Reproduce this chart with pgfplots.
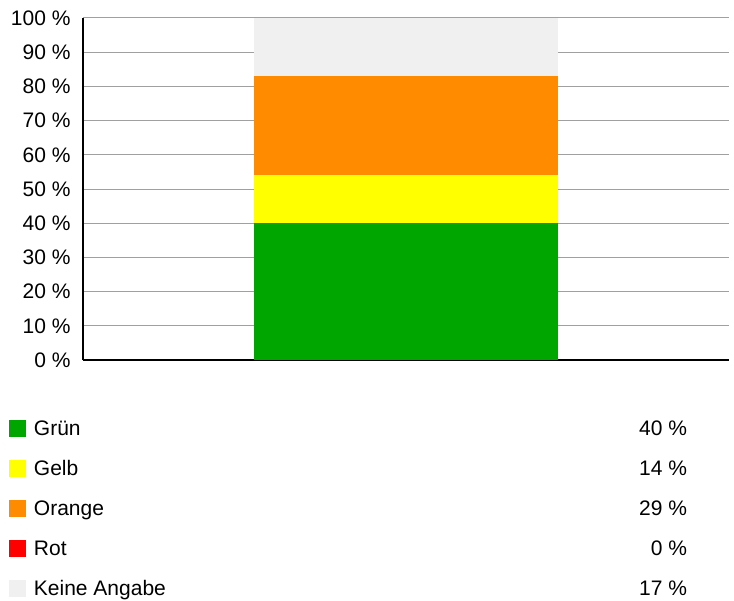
\documentclass[border=0pt]{standalone}
\usepackage{pgfplots}
\pgfplotsset{compat=1.18}
\usepackage{fontspec}
\setmainfont{Liberation Sans}
\definecolor{gruen}{RGB}{0,166,0}
\definecolor{gelb}{RGB}{255,255,0}
\definecolor{orangeb}{RGB}{255,140,0}
\definecolor{rot}{RGB}{255,0,0}
\definecolor{keine}{RGB}{240,240,240}
\definecolor{gridgray}{RGB}{160,160,160}

\begin{document}
\begin{tikzpicture}[font=\fontsize{21bp}{25bp}\selectfont]
\useasboundingbox (-83bp,-241bp) rectangle (651bp,360bp);
\begin{axis}[
    at={(0,0)}, anchor=south west,
    scale only axis,
    width=646bp, height=342bp,
    ybar stacked,
    bar width=0.47,
    bar shift=0pt,
    xmin=0, xmax=1,
    ymin=0, ymax=100,
    xtick=\empty,
    ytick={0,10,...,100},
    yticklabel={\pgfmathprintnumber[assume math mode=true]{\tick} \%},
    yticklabel style={xshift=-9bp},
    major tick length=0pt,
    ymajorgrids,
    grid style={gridgray, line width=1bp},
    axis x line=bottom,
    axis y line=left,
    x axis line style={-, black, line width=2.5bp},
    y axis line style={-, black, line width=2bp},
    legend style={at={(axis description cs:-0.1146,-0.171)}, anchor=north west,
        draw=none, fill=none, inner sep=0pt, outer sep=0pt,
        row sep=20bp, column sep=8bp,
        nodes={inner sep=0pt, text height=17bp, text depth=3bp}},
    legend cell align=left,
    legend image code/.code={\fill[#1] (0bp,-8.5bp) rectangle (17bp,8.5bp);},
]
\addplot[fill=gruen, draw=none] coordinates {(0.5,40)};
\addlegendentry{\makebox[653bp][l]{Grün\hfill 40 \%}}
\addplot[fill=gelb, draw=none] coordinates {(0.5,14)};
\addlegendentry{\makebox[653bp][l]{Gelb\hfill 14 \%}}
\addplot[fill=orangeb, draw=none] coordinates {(0.5,29)};
\addlegendentry{\makebox[653bp][l]{Orange\hfill 29 \%}}
\addplot[fill=rot, draw=none] coordinates {(0.5,0)};
\addlegendentry{\makebox[653bp][l]{Rot\hfill 0 \%}}
\addplot[fill=keine, draw=none] coordinates {(0.5,17)};
\addlegendentry{\makebox[653bp][l]{Keine Angabe\hfill 17 \%}}
\end{axis}
\end{tikzpicture}
\end{document}
